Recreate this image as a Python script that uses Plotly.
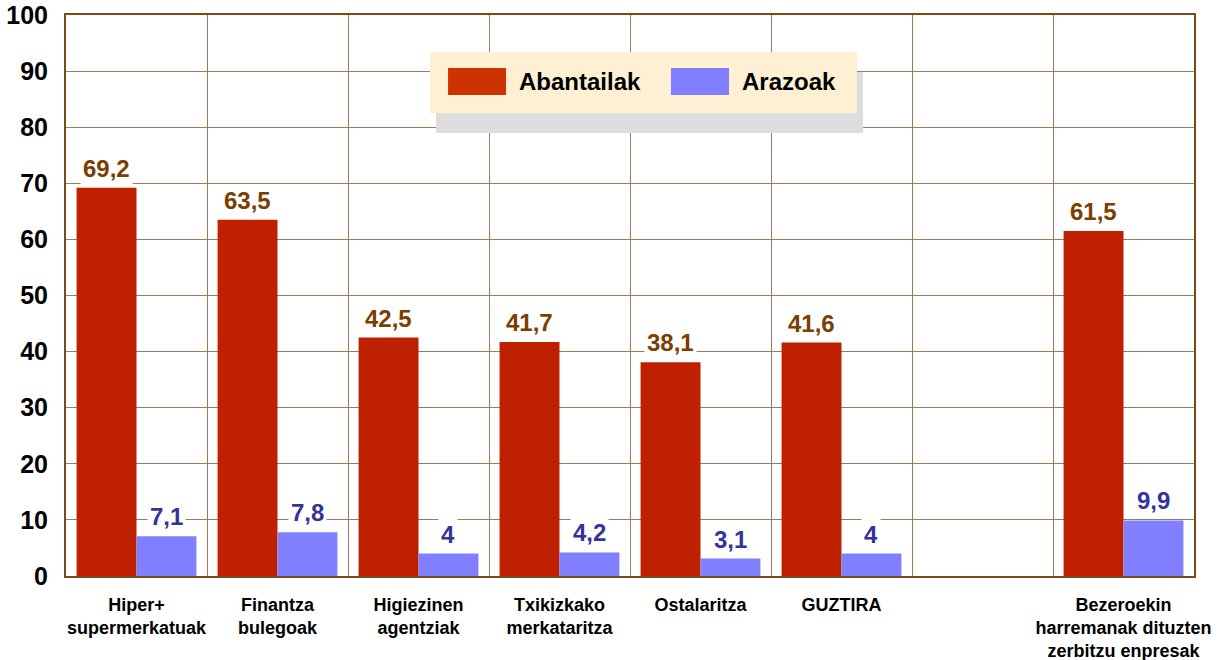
import plotly.graph_objects as go

categories = ["Hiper+<br>supermerkatuak", "Finantza<br>bulegoak", "Higiezinen<br>agentziak",
              "Txikizkako<br>merkataritza", "Ostalaritza", "GUZTIRA", "",
              "Bezeroekin<br>harremanak dituzten<br>zerbitzu enpresak"]
abantailak = [69.2, 63.5, 42.5, 41.7, 38.1, 41.6, None, 61.5]
arazoak = [7.1, 7.8, 4, 4.2, 3.1, 4, None, 9.9]
series_names = ["Abantailak", "Arazoak"]
y_ticks = list(range(0, 101, 10))

RED = "#BF2000"
RED_LEG = "#CC3300"
BLUE = "#8080FF"
BROWN_TXT = "#7A3E00"
BLUE_TXT = "#333399"
FONT = "Liberation Sans, Arial, sans-serif"

xs = list(range(len(categories)))
bw = 0.425

fig = go.Figure()
fig.add_trace(go.Bar(x=xs, y=abantailak, name=series_names[0], marker_color=RED,
                     marker_line_width=0, width=bw, offset=-bw, showlegend=False))
fig.add_trace(go.Bar(x=xs, y=arazoak, name=series_names[1], marker_color=BLUE,
                     marker_line_width=0, width=bw, offset=0, showlegend=False))

def fmt(v):
    return ("%g" % v).replace(".", ",")

annotations = []
for i, v in enumerate(abantailak):
    if v is None:
        continue
    annotations.append(dict(x=i - bw / 2, y=v, xref="x", yref="y", text="<b>%s</b>" % fmt(v),
                            showarrow=False, yanchor="bottom", yshift=3, bgcolor="white",
                            borderpad=2, font=dict(family=FONT, size=24, color=BROWN_TXT)))
for i, v in enumerate(arazoak):
    if v is None:
        continue
    annotations.append(dict(x=i + bw / 2, y=v, xref="x", yref="y", text="<b>%s</b>" % fmt(v),
                            showarrow=False, yanchor="bottom", yshift=3, bgcolor="white",
                            borderpad=2, font=dict(family=FONT, size=24, color=BLUE_TXT)))

# custom legend
annotations.append(dict(x=0.3998, y=0.8806, xref="paper", yref="paper", text="<b>Abantailak</b>",
                        showarrow=False, xanchor="left", yanchor="middle",
                        font=dict(family=FONT, size=24, color="black")))
annotations.append(dict(x=0.5975, y=0.8806, xref="paper", yref="paper", text="<b>Arazoak</b>",
                        showarrow=False, xanchor="left", yanchor="middle",
                        font=dict(family=FONT, size=24, color="black")))

shapes = [
    dict(type="rect", xref="paper", yref="paper", x0=0.328, x1=0.7066, y0=0.7897, y1=0.898,
         fillcolor="#DDDDDD", line_width=0, layer="above"),
    dict(type="rect", xref="paper", yref="paper", x0=0.3227, x1=0.7012, y0=0.825, y1=0.934,
         fillcolor="#FFF0D3", line_width=0, layer="above"),
    dict(type="rect", xref="paper", yref="paper", x0=0.3387, x1=0.3901, y0=0.8574, y1=0.9055,
         fillcolor=RED_LEG, line_width=0, layer="above"),
    dict(type="rect", xref="paper", yref="paper", x0=0.5363, x1=0.5878, y0=0.8574, y1=0.9055,
         fillcolor=BLUE, line_width=0, layer="above"),
]

fig.update_layout(
    width=1223, height=660,
    margin=dict(l=66, r=29, t=15, b=84),
    paper_bgcolor="white", plot_bgcolor="white",
    bargap=0.15,
    showlegend=False,
    annotations=annotations,
    shapes=shapes,
    font=dict(family=FONT, color="black"),
)
fig.update_xaxes(
    range=[-0.5, len(categories) - 0.5], automargin=False,
    tickmode="array", tickvals=xs, ticktext=["<b>%s</b>" % c if c else "" for c in categories],
    tickfont=dict(family=FONT, size=18, color="black"),
    showgrid=False, ticks="", ticklabelstandoff=11,
    showline=True, linecolor="#7B4A1A", linewidth=2, mirror=True,
    minor=dict(tick0=0.5, dtick=1, showgrid=True, gridcolor="#9C7C5C", gridwidth=1),
    zeroline=False,
)
fig.update_yaxes(
    range=[0, 100], tickmode="array", tickvals=y_ticks, automargin=False,
    ticktext=["<b>%d</b>" % t for t in y_ticks],
    tickfont=dict(family=FONT, size=25, color="black"),
    showgrid=True, gridcolor="#9C7C5C", gridwidth=1, ticks="", ticklabelstandoff=11,
    showline=True, linecolor="#7B4A1A", linewidth=2, mirror=True, zeroline=False,
)

fig.write_html("out.html", config={"displayModeBar": False},
               post_script="document.body.style.margin='0';document.body.style.overflow='hidden';")
